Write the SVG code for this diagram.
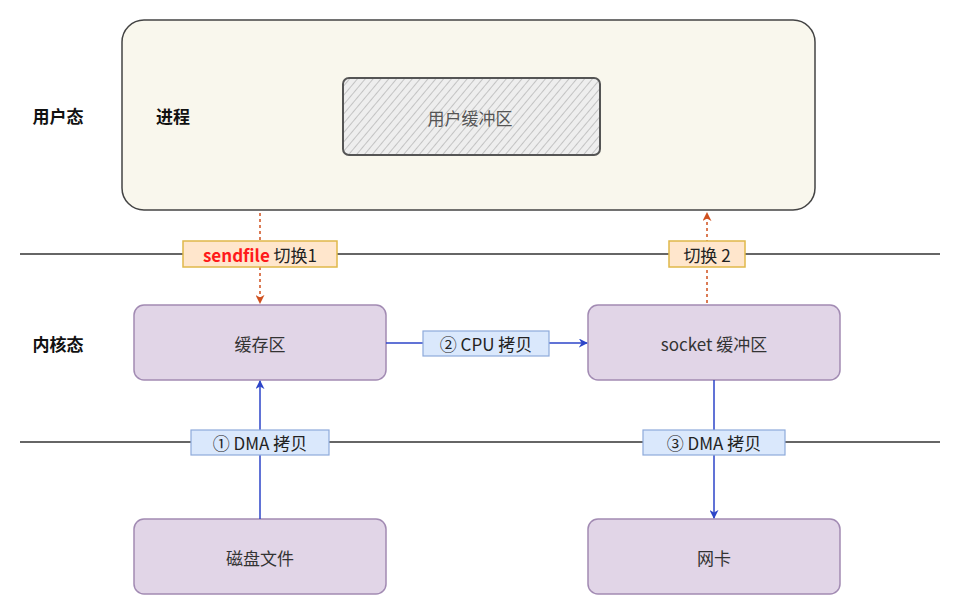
<svg xmlns="http://www.w3.org/2000/svg" width="958" height="611" viewBox="0 0 958 611">
<defs>
<style>
text{font-family:"Noto Sans CJK SC","Noto Sans",sans-serif;}
.lbl{font-size:17px;font-weight:bold;fill:#111;}
.node rect{fill:#e1d5e7;stroke:#a28bb3;stroke-width:1.5;}
.ntxt{font-size:17px;fill:#333;text-anchor:middle;dominant-baseline:central;}
.tag{font-size:17px;fill:#222;text-anchor:middle;dominant-baseline:central;}
.blue{fill:#dae8fc;stroke:#8eaadb;stroke-width:1.2;}
.orange{fill:#ffe6cc;stroke:#e0b84a;stroke-width:1.5;}
.sep{stroke:#333;stroke-width:1.3;}
.barr{stroke:#2d45c8;stroke-width:1.5;fill:none;}
.darr{stroke:#d0501e;stroke-width:1.5;fill:none;stroke-dasharray:3,3;}
</style>
<marker id="mb" viewBox="0 0 10 10" refX="9" refY="5" markerWidth="9" markerHeight="9" orient="auto" markerUnits="userSpaceOnUse">
<path d="M0,0 L10,5 L0,10 L3,5 Z" fill="#2d45c8"/>
</marker>
<marker id="mo" viewBox="0 0 10 10" refX="9" refY="5" markerWidth="9" markerHeight="9" orient="auto" markerUnits="userSpaceOnUse">
<path d="M0,0 L10,5 L0,10 L3,5 Z" fill="#d0501e"/>
</marker>
<pattern id="hatch" width="6" height="6" patternUnits="userSpaceOnUse" patternTransform="rotate(40)">
<rect width="6" height="6" fill="#eeeeee"/>
<line x1="0" y1="0" x2="0" y2="6" stroke="#999" stroke-width="1"/>
</pattern>
</defs>
<rect width="958" height="611" fill="#ffffff"/>

<g id="separators">
<line class="sep" x1="20" y1="254" x2="940" y2="254"/>
<line class="sep" x1="20" y1="442" x2="940" y2="442"/>
</g>

<g id="user-space-label"><text class="lbl" x="58" y="123" text-anchor="middle">用户态</text></g>
<g id="kernel-space-label"><text class="lbl" x="58" y="351" text-anchor="middle">内核态</text></g>

<g id="process">
<rect x="122" y="20" width="693" height="190" rx="22" fill="#f9f7ed" stroke="#444" stroke-width="1.5"/>
<text class="lbl" x="173" y="123" text-anchor="middle">进程</text>
</g>

<g id="user-buffer">
<rect x="343" y="78" width="257" height="77" rx="6" fill="url(#hatch)" stroke="#555" stroke-width="2"/>
<text x="470" y="117" style="font-size:17px;fill:#555;text-anchor:middle;dominant-baseline:central;">用户缓冲区</text>
</g>

<g id="page-cache" class="node">
<rect x="134" y="305" width="252" height="75" rx="10"/>
<text class="ntxt" x="260" y="343">缓存区</text>
</g>
<g id="socket-buffer" class="node">
<rect x="588" y="305" width="252" height="75" rx="10"/>
<text class="ntxt" x="714" y="343">socket 缓冲区</text>
</g>
<g id="disk-file" class="node">
<rect x="134" y="519" width="252" height="75" rx="10"/>
<text class="ntxt" x="260" y="557">磁盘文件</text>
</g>
<g id="nic" class="node">
<rect x="588" y="519" width="252" height="75" rx="10"/>
<text class="ntxt" x="714" y="557">网卡</text>
</g>

<g id="connectors">
<line class="darr" x1="260" y1="213" x2="260" y2="303" marker-end="url(#mo)"/>
<line class="darr" x1="707" y1="303" x2="707" y2="213" marker-end="url(#mo)"/>
<line class="barr" x1="386" y1="343" x2="587" y2="343" marker-end="url(#mb)"/>
<line class="barr" x1="260" y1="519" x2="260" y2="381" marker-end="url(#mb)"/>
<line class="barr" x1="714" y1="380" x2="714" y2="518" marker-end="url(#mb)"/>

<g id="label-switch1">
<rect class="orange" x="183" y="241" width="154" height="26"/>
<text x="260" y="254" style="font-size:17px;text-anchor:middle;dominant-baseline:central;"><tspan fill="#ff1a1a" font-weight="bold">sendfile</tspan><tspan fill="#222"> 切换1</tspan></text>
</g>
<g id="label-switch2">
<rect class="orange" x="669" y="241" width="76" height="26"/>
<text class="tag" x="707" y="254">切换 2</text>
</g>
<g id="label-cpu">
<rect class="blue" x="423" y="331" width="126" height="25"/>
<text class="tag" x="486" y="343.5">② CPU 拷贝</text>
</g>
<g id="label-dma1">
<rect class="blue" x="191" y="430" width="138" height="25"/>
<text class="tag" x="260" y="442.5">① DMA 拷贝</text>
</g>
<g id="label-dma3">
<rect class="blue" x="643" y="430" width="142" height="25"/>
<text class="tag" x="714" y="442.5">③ DMA 拷贝</text>
</g>
</g>
</svg>
